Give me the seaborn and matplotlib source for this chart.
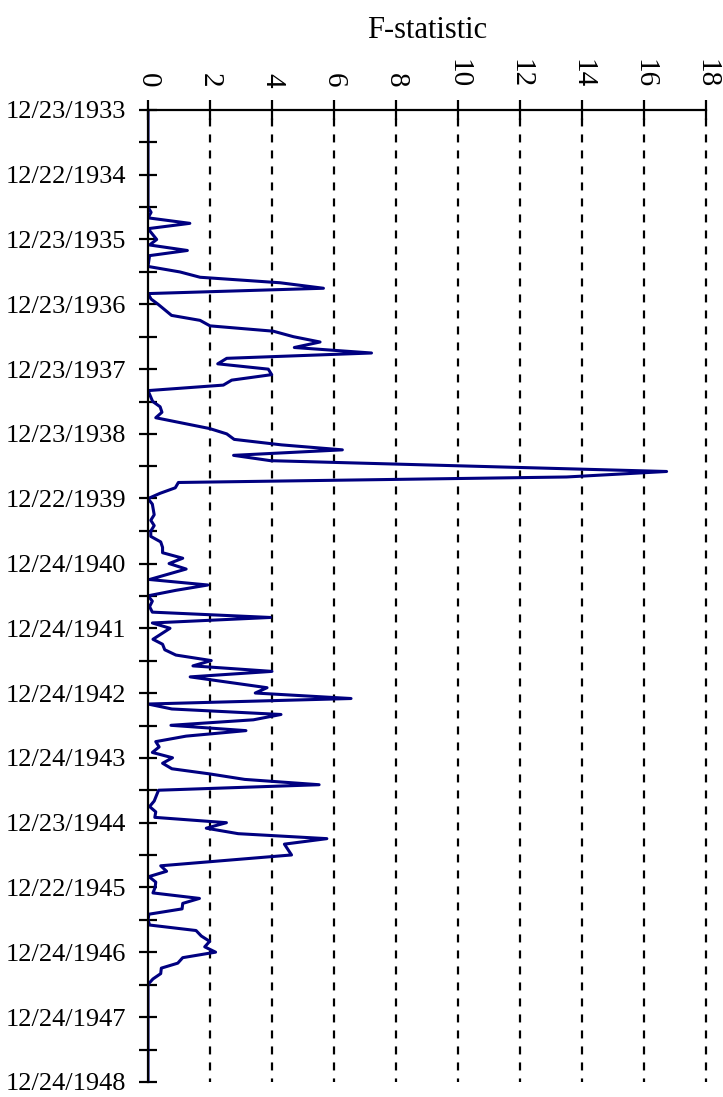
import matplotlib
matplotlib.use("Agg")
import matplotlib.pyplot as plt
import seaborn as sns
import pandas as pd
import numpy as np

# ---- data ----
start_date = "1933-12-23"
month_offsets = [0, 18, 19, 20, 21, 22, 24, 25, 26, 27, 29, 30, 31, 32, 33, 34, 35, 36, 38, 39,
                 40, 41, 42, 43, 44, 45, 46, 47, 48, 49, 50, 51, 52, 54, 55, 56, 57, 59, 60, 61,
                 62, 63, 64, 65, 67, 68, 69, 70, 71, 72, 73, 75, 76, 77, 78, 79, 80, 81, 82, 83,
                 84, 85, 87, 88, 89, 90, 91, 92, 93, 94, 95, 96, 98, 99, 100, 101, 102, 103, 104, 105,
                 107, 108, 109, 110, 111, 112, 113, 114, 115, 116, 117, 118, 119, 120, 121, 122, 123, 124, 125, 126,
                 128, 129, 130, 131, 132, 133, 134, 135, 136, 138, 140, 141, 142, 143, 144, 145, 146, 147, 148, 149,
                 150, 151, 152, 153, 154, 155, 156, 157, 158, 159, 160, 161, 162, 180]
f_values = [0, 0, 0.1, 0, 1.35, 0, 0.28, 0.05, 1.27, 0.05, 0, 1.03, 1.68, 4.26, 5.66, 0, 0.1, 0.33, 0.76, 1.68,
            2.0, 4.04, 4.69, 5.55, 4.72, 7.21, 2.54, 2.25, 3.88, 3.99, 2.7, 2.43, 0, 0.15, 0.39, 0.45, 0.25, 1.99, 2.54, 2.78,
            4.31, 6.27, 2.76, 3.95, 16.73, 13.5, 0.98, 0.88, 0.39, 0, 0.14, 0.2, 0.09, 0.2, 0.09, 0.09, 0.41, 0.47, 0.47, 1.12,
            0.68, 1.23, 0.05, 1.93, 0.9, 0, 0.14, 0.05, 0.14, 3.95, 0.14, 0.71, 0.16, 0.47, 0.54, 0.9, 2.04, 1.45, 4.0, 1.36,
            3.84, 3.46, 6.55, 0, 0.77, 4.29, 3.4, 0.74, 3.16, 1.23, 0.25, 0.36, 0.14, 0.79, 0.47, 0.77, 1.99, 3.12, 5.52, 0.34,
            0.2, 0.05, 0.25, 0.22, 2.53, 1.88, 2.91, 5.77, 4.4, 4.63, 0.41, 0.6, 0.03, 0.25, 0.23, 0.16, 1.66, 1.12, 1.1, 0.03,
            0, 0.05, 1.55, 1.72, 1.99, 1.83, 2.18, 1.12, 0.96, 0.43, 0.41, 0.16, 0, 0]
date_tick_labels = ["12/23/1933", "12/22/1934", "12/23/1935", "12/23/1936", "12/23/1937",
                    "12/23/1938", "12/22/1939", "12/24/1940", "12/24/1941", "12/24/1942",
                    "12/24/1943", "12/23/1944", "12/22/1945", "12/24/1946", "12/24/1947",
                    "12/24/1948"]
f_ticks = [0, 2, 4, 6, 8, 10, 12, 14, 16, 18]

# ---- build frame ----
t0 = pd.Timestamp(start_date)
dates = [t0 + pd.DateOffset(months=int(m)) for m in month_offsets]
df = pd.DataFrame({"date": pd.to_datetime(dates), "F": f_values})
tick_dates = pd.to_datetime(date_tick_labels, format="%m/%d/%Y")
minor_dates = tick_dates[:-1] + (tick_dates[1:] - tick_dates[:-1]) / 2

sns.set_theme(style="white")
plt.rcParams["font.family"] = ["Liberation Serif", "DejaVu Serif"]
plt.rcParams["text.color"] = "black"
plt.rcParams["axes.labelcolor"] = "black"
plt.rcParams["xtick.color"] = "black"
plt.rcParams["ytick.color"] = "black"

fig = plt.figure(figsize=(7.23, 10.97), dpi=100)
ax = fig.add_axes([148 / 723, 1 - 1082 / 1097, (706 - 148) / 723, (1082 - 110) / 1097])

sns.lineplot(data=df, x="F", y="date", orient="y", estimator=None, sort=True,
             color="#000080", linewidth=2.2, ax=ax)

ax.set_xlim(f_ticks[0], f_ticks[-1])
ax.set_ylim(tick_dates[-1], tick_dates[0])

ax.set_yticks(tick_dates)
ax.set_yticklabels(date_tick_labels)
ax.set_yticks(minor_dates, minor=True)
ax.set_ylabel("")

ax.xaxis.set_ticks_position("top")
ax.xaxis.set_label_position("top")
ax.set_xticks(f_ticks)
ax.set_xticklabels([str(v) for v in f_ticks], rotation=-90)
ax.set_xlabel("F-statistic", fontsize=22, labelpad=15, color="black")

for s in ["right", "bottom"]:
    ax.spines[s].set_visible(False)
for s in ["left", "top"]:
    ax.spines[s].set_visible(True)
    ax.spines[s].set_color("black")
    ax.spines[s].set_linewidth(1.6)

ax.tick_params(axis="x", which="major", direction="inout", length=14, width=1.6,
               colors="black", labelsize=21, pad=9, top=True, bottom=False)
ax.tick_params(axis="y", which="both", direction="inout", length=13, width=1.6,
               colors="black", labelsize=19, pad=9, left=True, right=False)

ax.grid(False)
ax.xaxis.grid(True, which="major", color="black", linewidth=1.6,
              linestyle=(2, (3.6, 3.6)))
for gl, v in zip(ax.get_xgridlines(), f_ticks):
    gl.set_clip_on(False)
    if v == 0:
        gl.set_visible(False)

ax.set_facecolor("white")
fig.patch.set_facecolor("white")
fig.savefig("out.png", dpi=100)
